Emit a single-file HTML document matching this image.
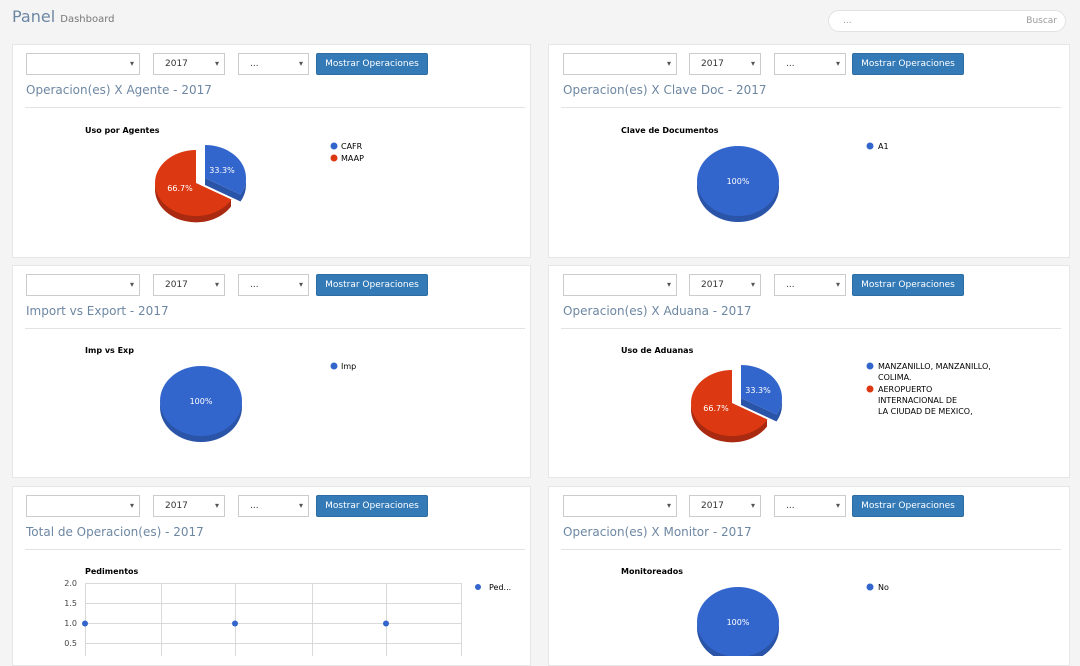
<!DOCTYPE html>
<html><head><meta charset="utf-8"><style>
*{box-sizing:border-box}
body{margin:0;width:1080px;height:656px;background:#f4f4f4;font-family:"DejaVu Sans","Liberation Sans",sans-serif;position:relative;overflow:hidden}
.a{position:absolute}
.panel{position:absolute;background:#fff;border:1px solid #e6e6e6;width:519px}
.sel{position:absolute;top:8px;height:22px;border:1px solid #ccc;background:#fff;font-size:9px;color:#333;padding:5px 0 0 11px}
.sel:after{content:"▾";position:absolute;right:5px;top:5px;font-size:8px;color:#555}
.btn{position:absolute;top:8px;left:303px;width:112px;height:22px;background:#337ab7;border:1px solid #2e6da4;border-radius:2px;color:#fff;font-size:9px;text-align:center;padding-top:5px;white-space:nowrap}
.ttl{position:absolute;left:13px;top:38px;font-size:12px;color:#6d87a3;white-space:nowrap}
.hr{position:absolute;left:12px;top:62px;width:500px;border-top:1px solid #e3e3e3}
svg text{font-family:"DejaVu Sans","Liberation Sans",sans-serif}
</style></head><body>
<div class="a" style="left:12px;top:7px;font-size:16px;color:#6d87a3">Panel <span style="font-size:10px;color:#777">Dashboard</span></div>
<div class="a" style="left:828px;top:10px;width:238px;height:22px;border:1px solid #e2e2e2;border-radius:11px;background:#fff;font-size:9px;color:#999;padding:5px 0 0 14px">...<span style="position:absolute;right:8px">Buscar</span></div>

<div class="panel" style="left:12px;top:44px;height:214px"><div class="sel" style="left:13px;width:114px"></div><div class="sel" style="left:140px;width:72px">2017</div><div class="sel" style="left:225px;width:71px">...</div><div class="btn">Mostrar Operaciones</div><div class="ttl">Operacion(es) X Agente - 2017</div><div class="hr"></div></div>
<div class="panel" style="left:548px;top:44px;height:214px;width:522px"><div class="sel" style="left:14px;width:114px"></div><div class="sel" style="left:140px;width:72px">2017</div><div class="sel" style="left:225px;width:72px">...</div><div class="btn">Mostrar Operaciones</div><div class="ttl" style="left:14px">Operacion(es) X Clave Doc - 2017</div><div class="hr"></div></div>
<div class="panel" style="left:12px;top:265px;height:213px"><div class="sel" style="left:13px;width:114px"></div><div class="sel" style="left:140px;width:72px">2017</div><div class="sel" style="left:225px;width:71px">...</div><div class="btn">Mostrar Operaciones</div><div class="ttl">Import vs Export - 2017</div><div class="hr"></div></div>
<div class="panel" style="left:548px;top:265px;height:213px;width:522px"><div class="sel" style="left:14px;width:114px"></div><div class="sel" style="left:140px;width:72px">2017</div><div class="sel" style="left:225px;width:72px">...</div><div class="btn">Mostrar Operaciones</div><div class="ttl" style="left:14px">Operacion(es) X Aduana - 2017</div><div class="hr"></div></div>
<div class="panel" style="left:12px;top:486px;height:180px"><div class="sel" style="left:13px;width:114px"></div><div class="sel" style="left:140px;width:72px">2017</div><div class="sel" style="left:225px;width:71px">...</div><div class="btn">Mostrar Operaciones</div><div class="ttl">Total de Operacion(es) - 2017</div><div class="hr"></div></div>
<div class="panel" style="left:548px;top:486px;height:180px;width:522px"><div class="sel" style="left:14px;width:114px"></div><div class="sel" style="left:140px;width:72px">2017</div><div class="sel" style="left:225px;width:72px">...</div><div class="btn">Mostrar Operaciones</div><div class="ttl" style="left:14px">Operacion(es) X Monitor - 2017</div><div class="hr"></div></div>

<svg class="a" style="left:0;top:0" width="1080" height="656">
<defs>
<g id="split">
 <path d="M155,183 A41,33 0 0 0 231,199.5 L231,206.5 A41,33 0 0 1 155,190 Z" fill="#a92a10"/>
 <path d="M196,183 L196,150 A41,33 0 1 0 231.5,199.5 Z" fill="#dc3912"/>
 <path d="M240.5,194.5 L240.5,201.5 L205,185 L205,178 Z" fill="#2a54a8"/>
 <path d="M246,178 A41,33 0 0 1 240.5,194.5 L240.5,201.5 A41,33 0 0 0 246,185 Z" fill="#2a54a8"/>
 <path d="M205,178 L205,145 A41,33 0 0 1 240.5,194.5 Z" fill="#3366cc"/>
 <text x="222" y="173" font-size="8" fill="#fff" text-anchor="middle">33.3%</text>
 <text x="180" y="191" font-size="8" fill="#fff" text-anchor="middle">66.7%</text>
</g>
<g id="full">
 <ellipse cx="0" cy="6" rx="41" ry="35" fill="#2a54a8"/>
 <ellipse cx="0" cy="0" rx="41" ry="35" fill="#3366cc"/>
 <text x="0" y="3" font-size="8" fill="#fff" text-anchor="middle">100%</text>
</g>
</defs>
<g font-size="8" fill="#000">
<text x="85" y="133" font-weight="bold">Uso por Agentes</text>
<circle cx="334" cy="146" r="3.5" fill="#3366cc"/><text x="341" y="149">CAFR</text>
<circle cx="334" cy="158" r="3.5" fill="#dc3912"/><text x="341" y="161">MAAP</text>
<use href="#split"/>

<text x="621" y="133" font-weight="bold">Clave de Documentos</text>
<circle cx="870" cy="146" r="3.5" fill="#3366cc"/><text x="878" y="149">A1</text>
<use href="#full" x="738" y="181"/>

<text x="85" y="353" font-weight="bold">Imp vs Exp</text>
<circle cx="334" cy="366" r="3.5" fill="#3366cc"/><text x="341" y="369">Imp</text>
<use href="#full" x="201" y="401"/>

<text x="621" y="353" font-weight="bold">Uso de Aduanas</text>
<circle cx="870" cy="366" r="3.5" fill="#3366cc"/><text x="878" y="369">MANZANILLO, MANZANILLO,</text><text x="878" y="380">COLIMA.</text>
<circle cx="870" cy="389" r="3.5" fill="#dc3912"/><text x="878" y="392">AEROPUERTO</text><text x="878" y="403">INTERNACIONAL DE</text><text x="878" y="414">LA CIUDAD DE MEXICO,</text>
<use href="#split" x="536" y="220"/>

<text x="621" y="574" font-weight="bold">Monitoreados</text>
<circle cx="870" cy="587" r="3.5" fill="#3366cc"/><text x="878" y="590">No</text>
<use href="#full" x="738" y="622"/>

<text x="85" y="574" font-weight="bold">Pedimentos</text>
<g stroke="#d9d9d9" stroke-width="1">
<line x1="85" y1="583.5" x2="462" y2="583.5"/><line x1="85" y1="603.5" x2="462" y2="603.5"/><line x1="85" y1="623.5" x2="462" y2="623.5"/><line x1="85" y1="643.5" x2="462" y2="643.5"/>
<line x1="85.5" y1="583" x2="85.5" y2="656"/><line x1="161.5" y1="583" x2="161.5" y2="656"/><line x1="235.5" y1="583" x2="235.5" y2="656"/><line x1="312.5" y1="583" x2="312.5" y2="656"/><line x1="386.5" y1="583" x2="386.5" y2="656"/><line x1="461.5" y1="583" x2="461.5" y2="656"/>
</g>
<g fill="#444" text-anchor="end"><text x="77" y="586">2.0</text><text x="77" y="606">1.5</text><text x="77" y="626">1.0</text><text x="77" y="646">0.5</text></g>
<circle cx="85" cy="623.5" r="3" fill="#3366cc"/><circle cx="235" cy="623.5" r="3" fill="#3366cc"/><circle cx="386" cy="623.5" r="3" fill="#3366cc"/>
<circle cx="478" cy="587" r="3" fill="#3366cc"/><text x="489" y="590">Ped...</text>
</g>
</svg>
</body></html>
